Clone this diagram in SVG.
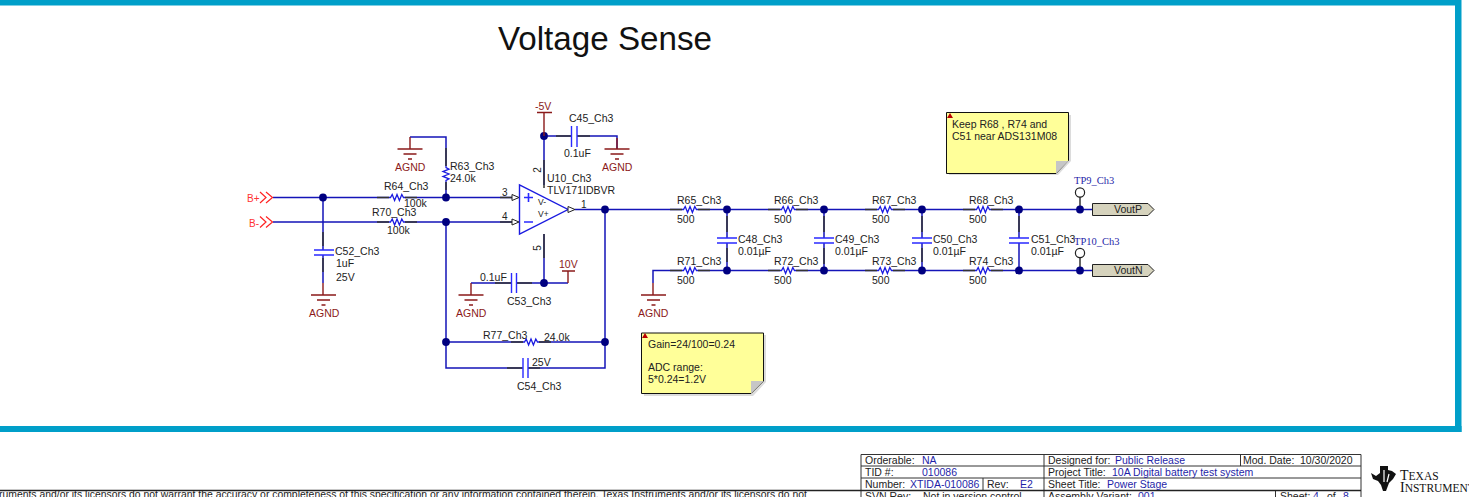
<svg xmlns="http://www.w3.org/2000/svg" width="1469" height="497" viewBox="0 0 1469 497">
<style>
text{font-family:"Liberation Sans",Arial,sans-serif;font-size:10.5px;fill:#222}
.title{font-size:33.2px;fill:#111}
.w{fill:none;stroke:#1414b8;stroke-width:1.5}
.k{fill:none;stroke:#333;stroke-width:1.5}
.p{fill:none;stroke:#8b1a1a;stroke-width:1.4}
.c{fill:none;stroke:#2a2aff;stroke-width:1.4}
.r{fill:none;stroke:#1a1ae0;stroke-width:1.3}
.red{fill:#8b1a1a}
.port{fill:#f33;font-size:10px}
.v{fill:#1f1fa8}
.sm{font-size:8.5px}
.pin{font-size:10px}
.tp{font-family:"Liberation Serif",serif;font-size:10.5px;fill:#1f1fa8}
.note{fill:#ffff99;stroke:#111;stroke-width:1}
.shadow{fill:#dcdcdc}
.fold{fill:#c6c6c6}
.flag{fill:#b00}
.tb{fill:none;stroke:#333;stroke-width:1}
.tag{fill:#d6d3bd;stroke:#222}
.chev{fill:none;stroke:#f22;stroke-width:1.2}
.tpc{fill:#fff;stroke:#222;stroke-width:1.2}
.logo{font-family:"Liberation Serif",serif;font-size:14px;fill:#111}
.logo tspan{font-size:11.5px}
</style>
<defs>
<circle id="d" r="3.9" fill="#000080"/>
<path id="gnd" class="p" d="M-12.500 0H12.500M-6.500 5H6.500M-2 10H2"/>
<path id="res" class="r" d="M-8 0H-6.500L-4.800 -3L-2.400 3L0 -3L2.400 3L4.800 -3L6.500 0H8"/>
<path id="stub" class="k" d="M-20 0H-8M8 0H20"/>
</defs>
<rect x="0" y="0" width="1461" height="5.500" fill="#009fc9"/>
<rect x="1455" y="0" width="6.500" height="432" fill="#009fc9"/>
<rect x="0" y="426" width="1461.500" height="6" fill="#009fc9"/>
<text x="605" y="50" class="title" text-anchor="middle">Voltage Sense</text>
<g id="connectors">
<path class="w" d="M273 197.500H518M273 222H518M323 197.500V283"/>
<path class="k" d="M323 232V246M323 258V272"/>
<path class="w" d="M410 137H446V197.500M446 222V368H605V209.500M446 342H605"/>
<path class="k" d="M446 148V166M446 182V190M500 197.500H512M500 222H512"/>
<path class="w" d="M544 136V185M544 234V283M544 136H617V149M471 283V283H568"/>
<path class="k" d="M544 160V188M544 234V258M556 136H571M577 136H590M495 283H511M516 283H532M507 368H522M528 368H540"/>
<path class="w" d="M575 209.500H1092M653 283V270.500H1092"/>
<path class="w" d="M727 209.500V270.500M824 209.500V270.500M922 209.500V270.500M1019 209.500V270.500"/>
<path class="k" d="M727 216V232M727 248V262M824 216V232M824 248V264M922 216V232M922 248V262M1019 216V232"/>
<path class="k" d="M1080 209.500V197M1080 270.500V258"/>
<path class="p" d="M410 137V149M323 283V295M471 283V295M653 283V295M617 138V149"/>
</g>
<g id="stubs">
<use href="#stub" x="397" y="197.500"/><use href="#stub" x="397" y="222"/><use href="#stub" x="690" y="209.500"/><use href="#stub" x="788" y="209.500"/><use href="#stub" x="885" y="209.500"/><use href="#stub" x="983" y="209.500"/><use href="#stub" x="690" y="270.500"/><use href="#stub" x="788" y="270.500"/><use href="#stub" x="885" y="270.500"/><use href="#stub" x="983" y="270.500"/><use href="#stub" x="531" y="342"/>
</g>
<g id="portBp"><text x="247" y="202" class="port">B+</text><path class="chev" d="M260 192L266 197.500L260 203M266 192L272.500 197.500L266 203"/></g>
<g id="portBm"><text x="249" y="227" class="port">B-</text><path class="chev" d="M260 216.500L266 222L260 227.500M266 216.500L272.500 222L266 227.500"/></g>
<g id="junctions">
<use href="#d" x="323" y="197.500"/><use href="#d" x="446" y="197.500"/><use href="#d" x="446" y="222"/><use href="#d" x="544" y="136"/><use href="#d" x="605" y="209.500"/><use href="#d" x="544" y="283"/><use href="#d" x="446" y="342"/><use href="#d" x="605" y="342"/><use href="#d" x="727" y="209.500"/><use href="#d" x="824" y="209.500"/><use href="#d" x="922" y="209.500"/><use href="#d" x="1019" y="209.500"/><use href="#d" x="727" y="270.500"/><use href="#d" x="824" y="270.500"/><use href="#d" x="922" y="270.500"/><use href="#d" x="1019" y="270.500"/><use href="#d" x="1080" y="209.500"/><use href="#d" x="1080" y="270.500"/>
</g>
<g id="C52"><path fill="#fff" d="M314 250H334V255H314Z"/><path class="c" d="M314 250H334M314 255H334"/><text x="335" y="255">C52_Ch3</text><text x="336" y="267">1uF</text><text x="336" y="281">25V</text></g>
<g id="gnd1"><use href="#gnd" x="323.500" y="295"/><text x="309" y="317" class="red">AGND</text></g>
<g id="gnd2"><use href="#gnd" x="410" y="149"/><text x="395" y="171" class="red">AGND</text></g>
<g id="gnd3"><use href="#gnd" x="617" y="149"/><text x="602" y="171" class="red">AGND</text></g>
<g id="gnd4"><use href="#gnd" x="471" y="295"/><text x="456" y="317" class="red">AGND</text></g>
<g id="gnd5"><use href="#gnd" x="653.500" y="295"/><text x="638" y="317" class="red">AGND</text></g>
<g id="R64"><path fill="#fff" d="M389 194H405V201H389Z"/><use href="#res" x="397" y="197.500"/><text x="384" y="190">R64_Ch3</text><text x="404" y="207">100k</text></g>
<g id="R70"><path fill="#fff" d="M389 218H405V226H389Z"/><use href="#res" x="397" y="222"/><text x="372" y="216">R70_Ch3</text><text x="387" y="234">100k</text></g>
<g id="R63"><path fill="#fff" d="M442 166H450V182H442Z"/><use href="#res" transform="translate(446 174) rotate(90)"/><text x="450" y="170">R63_Ch3</text><text x="450" y="182">24.0k</text></g>
<g id="vneg"><path class="p" d="M537 112.500H552M544 112.500V136"/><text x="535" y="110" class="red">-5V</text></g>
<g id="C45"><path fill="#fff" d="M571 130H577V142H571Z"/><path class="c" d="M571.500 126V147M577 126V147"/><text x="569" y="122">C45_Ch3</text><text x="564" y="157">0.1uF</text></g>
<g id="U10"><path d="M519.500 185V234L568 209.500Z" fill="#fff" stroke="#1a1ae0" stroke-width="1.4"/><path d="M524 197.500H533M528.500 193V202M524 222H533" stroke="#2a2aff" stroke-width="1.6"/><path d="M512 194.500L519 197.500L512 200.500ZM512 219L519 222L512 225ZM568 206.500L575 209.500L568 212.500Z" fill="#fff" stroke="#222"/><text x="538" y="205" class="sm">V-</text><text x="538" y="217" class="sm">V+</text><text x="547" y="182">U10_Ch3</text><text x="547" y="194">TLV171IDBVR</text><text x="502" y="196" class="pin">3</text><text x="502" y="220" class="pin">4</text><text x="581" y="208" class="pin">1</text><text x="541" y="170" transform="rotate(-90 541 170)" class="pin" text-anchor="middle">2</text><text x="541" y="248" transform="rotate(-90 541 248)" class="pin" text-anchor="middle">5</text></g>
<g id="vpos"><path class="p" d="M562 271H575M568 271V283"/><text x="559" y="268" class="red">10V</text></g>
<g id="C53"><path fill="#fff" d="M511 278H516V288H511Z"/><path class="c" d="M511.500 273V293M516.500 273V293"/><text x="480" y="281">0.1uF</text><text x="507" y="305">C53_Ch3</text></g>
<g id="R77"><path fill="#fff" d="M523 338H539V346H523Z"/><use href="#res" x="531" y="342"/><text x="483" y="339">R77_Ch3</text><text x="544" y="341">24.0k</text></g>
<g id="C54"><path fill="#fff" d="M523 362H528V374H523Z"/><path class="c" d="M523 358V378M528 358V378"/><text x="532" y="366">25V</text><text x="517" y="390">C54_Ch3</text></g>
<g id="R65"><path fill="#fff" d="M682 205H698V214H682Z"/><use href="#res" x="690" y="209.500"/><text x="677" y="204">R65_Ch3</text><text x="677" y="223">500</text></g>
<g id="R66"><path fill="#fff" d="M780 205H796V214H780Z"/><use href="#res" x="788" y="209.500"/><text x="774" y="204">R66_Ch3</text><text x="774" y="223">500</text></g>
<g id="R67"><path fill="#fff" d="M877 205H893V214H877Z"/><use href="#res" x="885" y="209.500"/><text x="872" y="204">R67_Ch3</text><text x="872" y="223">500</text></g>
<g id="R68"><path fill="#fff" d="M975 205H991V214H975Z"/><use href="#res" x="983" y="209.500"/><text x="969" y="204">R68_Ch3</text><text x="969" y="223">500</text></g>
<g id="R71"><path fill="#fff" d="M682 266H698V275H682Z"/><use href="#res" x="690" y="270.500"/><text x="677" y="265">R71_Ch3</text><text x="677" y="284">500</text></g>
<g id="R72"><path fill="#fff" d="M780 266H796V275H780Z"/><use href="#res" x="788" y="270.500"/><text x="774" y="265">R72_Ch3</text><text x="774" y="284">500</text></g>
<g id="R73"><path fill="#fff" d="M877 266H893V275H877Z"/><use href="#res" x="885" y="270.500"/><text x="872" y="265">R73_Ch3</text><text x="872" y="284">500</text></g>
<g id="R74"><path fill="#fff" d="M975 266H991V275H975Z"/><use href="#res" x="983" y="270.500"/><text x="969" y="265">R74_Ch3</text><text x="969" y="284">500</text></g>
<g id="C48"><path fill="#fff" d="M717 238H737V243H717Z"/><path class="c" d="M717 238H737M717 243H737"/><text x="738" y="243">C48_Ch3</text><text x="738" y="255">0.01µF</text></g>
<g id="C49"><path fill="#fff" d="M814 238H834V243H814Z"/><path class="c" d="M814 238H834M814 243H834"/><text x="835" y="243">C49_Ch3</text><text x="835" y="255">0.01µF</text></g>
<g id="C50"><path fill="#fff" d="M912 238H932V243H912Z"/><path class="c" d="M912 238H932M912 243H932"/><text x="933" y="243">C50_Ch3</text><text x="933" y="255">0.01µF</text></g>
<g id="C51"><path fill="#fff" d="M1009 238H1029V243H1009Z"/><path class="c" d="M1009 238H1029M1009 243H1029"/><text x="1031" y="243">C51_Ch3</text><text x="1031" y="255">0.01µF</text></g>
<g id="TP9"><circle cx="1080" cy="192.500" r="4.600" class="tpc"/><text class="tp" x="1074" y="184">TP9_Ch3</text></g>
<g id="TP10"><circle cx="1080" cy="253" r="4.600" class="tpc"/><text class="tp" x="1074" y="245">TP10_Ch3</text></g>
<g id="VoutP"><path d="M1092.500 203.500H1148L1154 209.500L1148 215.500H1092.500Z" class="tag"/><text x="1114" y="213">VoutP</text></g>
<g id="VoutN"><path d="M1092.500 264.500H1148L1154 270.500L1148 276.500H1092.500Z" class="tag"/><text x="1114" y="274">VoutN</text></g>
<g id="note1"><path d="M949 115H1071V161L1058 175H949Z" class="shadow"/><path d="M946.500 112.500H1068.500V160.500L1056 173.500H946.500Z" class="note"/><path d="M1056 173.500V161H1068.500Z" class="fold"/><path d="M947 118L950 113L953 118Z" class="flag"/><text x="952" y="128">Keep R68 , R74 and</text><text x="952" y="140">C51 near ADS131M08</text></g>
<g id="note2"><path d="M644 335H766V382L753 396H644Z" class="shadow"/><path d="M641.500 333H763.500V381L751 393.500H641.500Z" class="note"/><path d="M751 393.500V381H763.500Z" class="fold"/><path d="M642 338L645 333L648 338Z" class="flag"/><text x="648" y="348">Gain=24/100=0.24</text><text x="648" y="371">ADC range:</text><text x="648" y="383">5*0.24=1.2V</text></g>
<g id="titleblock">
<path class="tb" d="M861 454.500H1361V497M861 454.500V497M861 466H1361M861 478H1361M1044 454.500V497M983 478V490M1240.500 454.500V466M1275.500 490V497"/>
<path d="M0 490.500H1361" stroke="#222" stroke-width="1.300"/>
<text x="865" y="464">Orderable:</text><text x="922" y="464" class="v">NA</text>
<text x="865" y="476">TID #:</text><text x="922" y="476" class="v">010086</text>
<text x="865" y="488">Number:</text><text x="910" y="488" class="v">XTIDA-010086</text><text x="987" y="488">Rev:</text><text x="1020" y="488" class="v">E2</text>
<text x="865" y="500">SVN Rev:</text><text x="923" y="500">Not in version control</text>
<text x="1048" y="464">Designed for:</text><text x="1115" y="464" class="v">Public Release</text><text x="1243" y="464">Mod. Date:</text><text x="1300" y="464">10/30/2020</text>
<text x="1048" y="476">Project Title:</text><text x="1112" y="476" class="v">10A Digital battery test system</text>
<text x="1048" y="488">Sheet Title:</text><text x="1107" y="488" class="v">Power Stage</text>
<text x="1048" y="500">Assembly Variant:</text><text x="1138" y="500" class="v">001</text>
<text x="1280" y="500">Sheet:</text><text x="1313" y="500" class="v">4</text><text x="1327" y="500">of</text><text x="1343" y="500" class="v">8</text>
<text x="-1" y="498" font-size="9.500" textLength="808" lengthAdjust="spacingAndGlyphs">ruments and/or its licensors do not warrant the accuracy or completeness of this specification or any information contained therein. Texas Instruments and/or its licensors do not</text>
<path d="M1371 473L1376 476L1380 473V466H1388V470L1392 471L1396 474L1393 479L1389 483L1386 491L1383 491L1381 485L1378 481L1373 479Z" fill="#111"/>
<path d="M1384 470V482M1389 474L1387 482" stroke="#fff" stroke-width="1.200" fill="none"/>
<text x="1400" y="480" class="logo">T<tspan>EXAS</tspan></text>
<text x="1400" y="492" class="logo">I<tspan>NSTRUMENTS</tspan></text>
</g>
</svg>
